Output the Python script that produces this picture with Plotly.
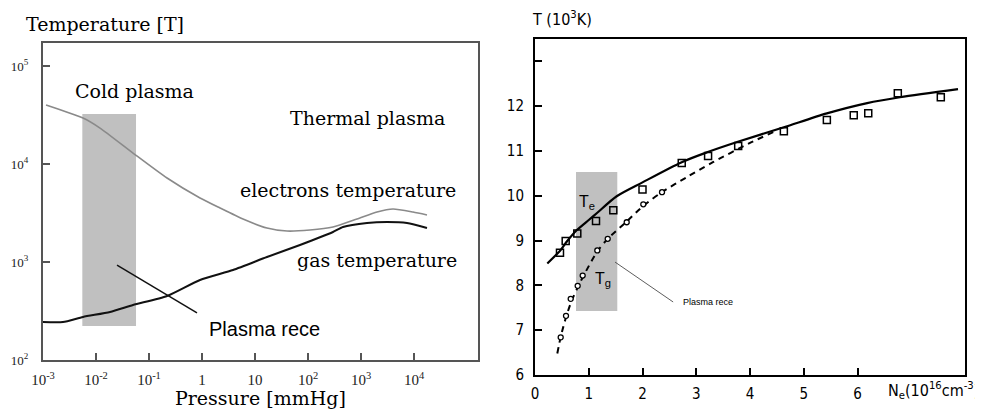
import plotly.graph_objects as go

# target picture is 983x410; the page body adds an 8px margin, so the figure is drawn 8px smaller
OX, OY = 8, 8
W, H = 983 - OX, 410 - OY

# ---------------- Left panel data (pressure in mmHg, temperature in K) ----------------
e_pressure = [0.00114, 0.00569, 0.0119, 0.0499, 0.219, 0.917, 2.19, 5.94, 16.8, 40.2,
              109, 296, 841, 2005, 4018, 9575, 17580]
e_temp = [40000, 29440, 23280, 12940, 7194, 4498, 3556, 2746, 2223, 2070,
          2122, 2276, 2746, 3236, 3475, 3236, 3020]
g_pressure = [0.001, 0.00238, 0.00569, 0.0184, 0.0499, 0.219, 0.917, 3.85, 16.8, 70.6,
              296, 457, 1297, 3097, 7379, 17580]
g_temp = [244, 244, 275, 309, 364, 450, 655, 829, 1124, 1491,
          2023, 2276, 2500, 2559, 2500, 2223]
rece_pressure = [0.0249, 0.805]
rece_temp = [931, 302]
box_pressure = [0.00552, 0.0569]
box_temp = [222, 32360]
left_xticks = [1e-3, 1e-2, 1e-1, 1, 10, 1e2, 1e3, 1e4]
left_xlabels = ["10<sup>-3</sup>", "10<sup>-2</sup>", "10<sup>-1</sup>", "1", "10",
                "10<sup>2</sup>", "10<sup>3</sup>", "10<sup>4</sup>"]
left_yticks = [1e2, 1e3, 1e4, 1e5]
left_ylabels = ["10<sup>2</sup>", "10<sup>3</sup>", "10<sup>4</sup>", "10<sup>5</sup>"]

# ---------------- Right panel data (Ne in 1e16 cm^-3, T in 1e3 K) ----------------
te_line_n = [0.229, 0.47, 0.6, 0.775, 1.0, 1.148, 1.52, 2.0, 2.73, 3.2, 3.76, 4.63, 5.43, 6.18, 6.79, 7.87]
te_line_t = [8.49, 8.78, 8.99, 9.23, 9.46, 9.61, 9.99, 10.30, 10.75, 10.97, 11.2, 11.53, 11.84, 12.07, 12.2, 12.38]
te_meas_n = [0.465, 0.571, 0.787, 1.135, 1.457, 2.0, 2.73, 3.22, 3.78, 4.63, 5.43, 5.93, 6.20, 6.75, 7.55]
te_meas_t = [8.73, 8.99, 9.16, 9.44, 9.68, 10.14, 10.73, 10.89, 11.11, 11.44, 11.69, 11.80, 11.84, 12.29, 12.20]
tg_meas_n = [0.478, 0.577, 0.664, 0.794, 0.887, 1.159, 1.353, 1.706, 2.015, 2.363]
tg_meas_t = [6.84, 7.32, 7.70, 7.99, 8.22, 8.78, 9.04, 9.41, 9.81, 10.08]
tg_line_n = [0.415, 0.48, 0.58, 0.68, 0.8, 0.95, 1.16, 1.36, 1.71, 2.02, 2.36, 2.83, 3.31, 4.0, 4.45]
tg_line_t = [6.48, 6.86, 7.30, 7.65, 7.97, 8.32, 8.76, 9.05, 9.43, 9.78, 10.08, 10.42, 10.75, 11.18, 11.43]
rbox_n = [0.763, 1.531]
rbox_t = [7.43, 10.53]
rpointer_n = [1.49, 2.57]
rpointer_t = [8.52, 7.63]
right_xticks = [0, 1, 2, 3, 4, 5, 6]
right_yticks = [6, 7, 8, 9, 10, 11, 12, 13]
right_ylabels = ["6", "7", "8", "9", "10", "11", "12", ""]

SERIF = "DejaVu Serif, Liberation Serif, serif"
TSERIF = "Liberation Serif, Times New Roman, serif"
SANS = "Liberation Sans, Arial, sans-serif"
NARROW = "Liberation Sans Narrow, DejaVu Sans Condensed, Arial Narrow, sans-serif"


def px(x):
    return (x - OX) / W


def py(y):
    return 1 - (y - OY) / H


fig = go.Figure()

# Left panel
fig.add_trace(go.Scatter(
    x=[box_pressure[0], box_pressure[1], box_pressure[1], box_pressure[0], box_pressure[0]],
    y=[box_temp[0], box_temp[0], box_temp[1], box_temp[1], box_temp[0]],
    fill="toself", fillcolor="#c0c0c0", line=dict(width=0), mode="lines",
    xaxis="x", yaxis="y", hoverinfo="skip"))
fig.add_trace(go.Scatter(x=e_pressure, y=e_temp, mode="lines",
                         line=dict(color="#8a8a8a", width=1.6, shape="spline", smoothing=0.6),
                         xaxis="x", yaxis="y"))
fig.add_trace(go.Scatter(x=g_pressure, y=g_temp, mode="lines",
                         line=dict(color="#111111", width=2, shape="spline", smoothing=0.6),
                         xaxis="x", yaxis="y"))
fig.add_trace(go.Scatter(x=rece_pressure, y=rece_temp, mode="lines", line=dict(color="#111111", width=1.5),
                         xaxis="x", yaxis="y"))

# Right panel
fig.add_trace(go.Scatter(
    x=[rbox_n[0], rbox_n[1], rbox_n[1], rbox_n[0], rbox_n[0]],
    y=[rbox_t[0], rbox_t[0], rbox_t[1], rbox_t[1], rbox_t[0]],
    fill="toself", fillcolor="#c0c0c0", line=dict(width=0), mode="lines",
    xaxis="x2", yaxis="y2", hoverinfo="skip"))
fig.add_trace(go.Scatter(x=te_line_n, y=te_line_t, mode="lines",
                         line=dict(color="black", width=2.2, shape="spline", smoothing=0.8),
                         xaxis="x2", yaxis="y2"))
fig.add_trace(go.Scatter(x=tg_line_n, y=tg_line_t, mode="lines",
                         line=dict(color="black", width=2, dash="6px,5px", shape="spline", smoothing=0.8),
                         xaxis="x2", yaxis="y2"))
fig.add_trace(go.Scatter(x=te_meas_n, y=te_meas_t, mode="markers",
                         marker=dict(symbol="square-open", size=7, color="black", line=dict(width=1.5)),
                         xaxis="x2", yaxis="y2"))
fig.add_trace(go.Scatter(x=tg_meas_n, y=tg_meas_t, mode="markers",
                         marker=dict(symbol="circle", size=5, color="white", line=dict(color="black", width=1.3)),
                         xaxis="x2", yaxis="y2"))
fig.add_trace(go.Scatter(x=rpointer_n, y=rpointer_t, mode="lines", line=dict(color="#333333", width=0.8),
                         xaxis="x2", yaxis="y2"))

common_left = dict(showgrid=False, zeroline=False, showline=True, mirror=True, linecolor="#555555",
                   linewidth=2, ticks="inside", ticklen=7, tickwidth=1.5, tickcolor="#555555",
                   automargin=False)
common_right = dict(showgrid=False, zeroline=False, showline=True, mirror=True, linecolor="black",
                    linewidth=2, ticks="inside", ticklen=7, tickwidth=2, tickcolor="black",
                    automargin=False, tickfont=dict(family=NARROW, size=15, color="black"))

fig.update_layout(
    template="none",
    width=W, height=H, autosize=False, showlegend=False,
    margin=dict(l=0, r=0, t=0, b=0, pad=0),
    paper_bgcolor="white", plot_bgcolor="white",
    xaxis=dict(type="log", range=[-3, 5.2075], domain=[px(43), px(478)], anchor="y",
               tickvals=left_xticks, ticktext=left_xlabels, ticklabelstandoff=5,
               tickfont=dict(family=TSERIF, size=15, color="#222"), **common_left),
    yaxis=dict(type="log", range=[2, 5.2347], domain=[py(360), py(43)], anchor="x",
               tickvals=left_yticks, ticktext=left_ylabels, ticklabelstandoff=10,
               tickfont=dict(family=TSERIF, size=13, color="#222"), **common_left),
    xaxis2=dict(range=[0, 8], domain=[px(535), px(965)], anchor="y2",
                tickvals=right_xticks, ticklabelstandoff=4, **common_right),
    yaxis2=dict(range=[6, 13.5], domain=[py(375), py(39)], anchor="x2",
                tickvals=right_yticks, ticktext=right_ylabels, ticklabelstandoff=6, **common_right),
)

annots = [
    ("Temperature [T]", 105, 24, SERIF, 19, "center"),
    ("Cold plasma", 134, 91, SERIF, 19, "center"),
    ("Thermal plasma", 367, 118, SERIF, 19, "center"),
    ("electrons temperature", 348, 190, SERIF, 19, "center"),
    ("gas temperature", 377, 260, SERIF, 19, "center"),
    ("Plasma rece", 264, 329, SANS, 20, "center"),
    ("Pressure [mmHg]", 260, 398, SERIF, 19, "center"),
    ("T (10<sup>3</sup>K)", 562, 18, NARROW, 16, "center"),
    ("Plasma rece", 708, 302, SANS, 9, "center"),
]
for text, x, y, fam, size, anc in annots:
    fig.add_annotation(text=text, x=px(x), y=py(y), xref="paper", yref="paper", showarrow=False,
                       xanchor=anc, yanchor="middle", font=dict(family=fam, size=size, color="black"))

fig.add_annotation(text="T<sub>e</sub>", x=px(577), y=py(203), xref="paper", yref="paper", showarrow=False,
                   xanchor="left", yanchor="middle", font=dict(family=SANS, size=16, color="black"))
fig.add_annotation(text="T<sub>g</sub>", x=px(593), y=py(279), xref="paper", yref="paper", showarrow=False,
                   xanchor="left", yanchor="middle", font=dict(family=SANS, size=16, color="black"))
fig.add_annotation(text="N<sub>e</sub>(10<sup>16</sup>cm<sup>-3</sup>)", x=px(886), y=py(390), xref="paper",
                   yref="paper", showarrow=False, xanchor="left", yanchor="middle",
                   font=dict(family=NARROW, size=16, color="black"))

fig.write_html("out.html")
